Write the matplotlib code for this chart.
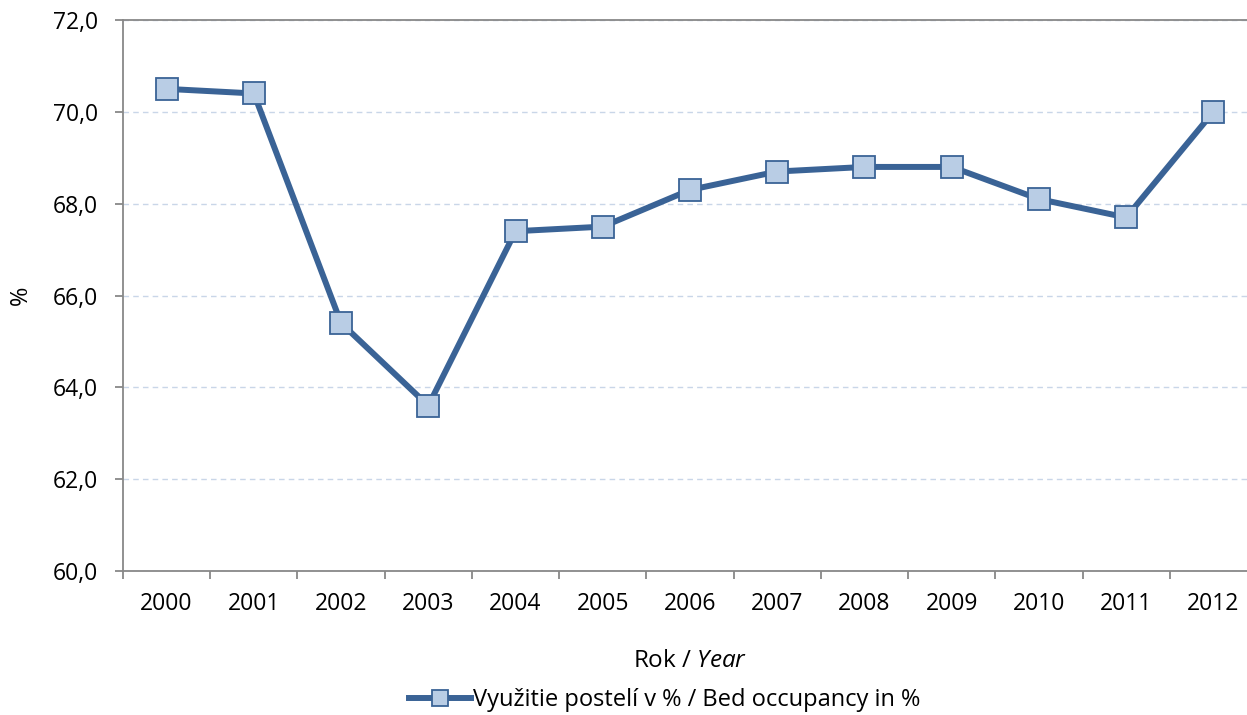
import numpy as np
import matplotlib.pyplot as plt

# Bed occupancy by year
years = ["2000", "2001", "2002", "2003", "2004", "2005", "2006",
         "2007", "2008", "2009", "2010", "2011", "2012"]
occupancy = [70.5, 70.4, 65.4, 63.6, 67.4, 67.5, 68.3,
             68.7, 68.8, 68.8, 68.1, 67.7, 70.0]
yticks = [60, 62, 64, 66, 68, 70, 72]

plt.rcParams["font.family"] = ["Open Sans", "DejaVu Sans"]
plt.rcParams["mathtext.fontset"] = "custom"
plt.rcParams["mathtext.it"] = "Open Sans:italic"
plt.rcParams["mathtext.rm"] = "Open Sans"

W, H = 1247, 715
fig = plt.figure(figsize=(W / 100, H / 100), dpi=100)
# axes box in pixels: left 123, top 20, bottom 571; last category edge falls past the image
left, top, bottom, right = 123, 20, 571, 1257
ax = fig.add_axes([left / W, 1 - bottom / H, (right - left) / W, (bottom - top) / H])

x = np.arange(len(years))
line, = ax.plot(x, occupancy, color="#3A6396", lw=4.3, marker="s", ms=15.5,
                mfc="#B9CDE5", mec="#3A6396", mew=1.3, zorder=3, clip_on=False,
                label="Využitie postelí v % / Bed occupancy in %")

ax.set_xlim(-0.5, len(years) - 0.5)
ax.set_ylim(60, 72)
ax.set_yticks(yticks)
ax.set_yticklabels([f"{v:.1f}".replace(".", ",") for v in yticks], fontsize=16.5)
ax.set_xticks(x)
ax.set_xticklabels(years, fontsize=16.5)
ax.set_xticks(np.arange(len(years) + 1) - 0.5, minor=True)
ax.tick_params(axis="x", which="major", length=0, pad=15)
ax.tick_params(axis="x", which="minor", length=6, color="#888888", width=1.3)
ax.tick_params(axis="y", length=6, color="#888888", width=1.3, pad=12)

ax.grid(axis="y", color="#C9D6E8", ls=(0, (4, 3)), lw=1)
ax.set_axisbelow(True)
for s in ["left", "bottom", "top"]:
    ax.spines[s].set_color("#888888")
    ax.spines[s].set_linewidth(1.3)
ax.spines["right"].set_visible(False)

ax.set_ylabel("%", fontsize=17, labelpad=14)
ax.set_xlabel("Rok / $\\it{Year}$", fontsize=17.5, labelpad=24)

fig.legend(handles=[line], loc="center", bbox_to_anchor=(665 / W, 1 - 700 / H),
           frameon=False, fontsize=17, handlelength=2.6, handletextpad=0.1, markerscale=0.7)

plt.savefig("out.png")
